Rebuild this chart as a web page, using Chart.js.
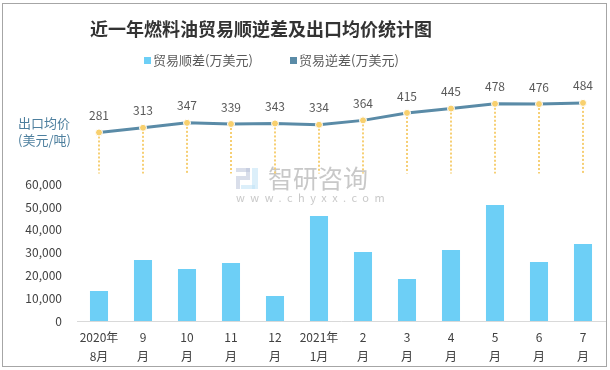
<!DOCTYPE html>
<html>
<head>
<meta charset="utf-8">
<script src="https://cdn.jsdelivr.net/npm/chart.js@4/dist/chart.umd.min.js"></script>
<style>
  html, body { margin: 0; padding: 0; background: #fff; }
  #wrap { width: 610px; height: 370px; }
</style>
</head>
<body>
<div id="wrap"><canvas id="chart" width="610" height="370"></canvas></div>
<script>
// data
const months = [
  ['2020年', '8月'], ['9', '月'], ['10', '月'], ['11', '月'], ['12', '月'], ['2021年', '1月'],
  ['2', '月'], ['3', '月'], ['4', '月'], ['5', '月'], ['6', '月'], ['7', '月']
];
const surplus = [13200, 26800, 22800, 25500, 11000, 46100, 30300, 18400, 31200, 50900, 25900, 33800];
const exportPrice = [281, 313, 347, 339, 343, 334, 364, 415, 445, 478, 476, 484];
const surplusTicks = [0, 10000, 20000, 30000, 40000, 50000, 60000];

const titleText = '近一年燃料油贸易顺逆差及出口均价统计图';
const FONT = "'Noto Sans CJK SC', 'Noto Sans', sans-serif";

// garis putus-putus kuning dari titik ke dasar area harga
const dropLines = {
  id: 'dropLines',
  beforeDatasetsDraw(chart) {
    const meta = chart.getDatasetMeta(1);
    const base = chart.scales.y2.getPixelForValue(0);
    const ctx = chart.ctx;
    ctx.save();
    ctx.strokeStyle = '#f6cf74';
    ctx.lineWidth = 2;
    ctx.setLineDash([2, 2]);
    meta.data.forEach(pt => {
      ctx.beginPath();
      ctx.moveTo(Math.round(pt.x), pt.y);
      ctx.lineTo(Math.round(pt.x), base);
      ctx.stroke();
    });
    ctx.restore();
  }
};

// label angka di atas titik harga
const pointLabels = {
  id: 'pointLabels',
  afterDatasetsDraw(chart) {
    const meta = chart.getDatasetMeta(1);
    const ctx = chart.ctx;
    ctx.save();
    ctx.font = '12px ' + FONT;
    ctx.fillStyle = '#595959';
    ctx.textAlign = 'center';
    ctx.textBaseline = 'middle';
    meta.data.forEach((pt, i) => {
      ctx.fillText(exportPrice[i], pt.x, pt.y - 17);
    });
    ctx.restore();
  }
};

// judul, legenda, label sumbu kiri, bingkai dan watermark
const decorations = {
  id: 'decorations',
  beforeDraw(chart) {
    const ctx = chart.ctx;
    ctx.save();
    ctx.fillStyle = '#fff';
    ctx.fillRect(0, 0, chart.width, chart.height);
    ctx.strokeStyle = '#a6a6a6';
    ctx.lineWidth = 1;
    ctx.strokeRect(2.5, 3.5, 604, 363);
    ctx.restore();
  },
  beforeDatasetsDraw(chart) {
    const ctx = chart.ctx;
    ctx.save();
    ctx.globalAlpha = 0.55;
    ctx.fillStyle = '#b9c3d9';
    ctx.fillRect(236, 168, 14, 4);
    ctx.fillRect(246, 168, 4, 12);
    ctx.fillRect(236, 176, 10, 4);
    ctx.fillRect(236, 180, 4, 9);
    ctx.fillStyle = '#bfe1f5';
    ctx.fillRect(252, 168, 6, 21);
    ctx.fillRect(241, 185, 14, 4);
    ctx.fillStyle = '#9a9a9a';
    ctx.font = '25px ' + FONT;
    ctx.textBaseline = 'middle';
    ctx.fillText('智研咨询', 268, 178);
    ctx.font = '11px ' + FONT;
    ctx.letterSpacing = '5.5px';
    ctx.fillText('www.chyxx.com', 236, 198);
    ctx.restore();
  },
  afterDraw(chart) {
    const ctx = chart.ctx;
    ctx.save();
    ctx.textBaseline = 'middle';
    ctx.textAlign = 'center';
    ctx.fillStyle = '#333333';
    ctx.font = 'bold 18px ' + FONT;
    ctx.fillText(titleText, 261, 29);

    // legenda
    ctx.textAlign = 'left';
    ctx.font = '13px ' + FONT;
    const items = [
      { x: 144, ds: chart.data.datasets[0], color: chart.data.datasets[0].backgroundColor },
      { x: 290, ds: chart.data.datasets[1], color: chart.data.datasets[1].borderColor }
    ];
    items.forEach(it => {
      ctx.fillStyle = it.color;
      ctx.fillRect(it.x, 57, 7, 7);
      ctx.fillStyle = '#595959';
      ctx.fillText(it.ds.label, it.x + 9, 60.5);
    });

    ctx.fillStyle = '#4d7f9e';
    ctx.font = '13px ' + FONT;
    ctx.fillText('出口均价', 18, 123);
    ctx.fillText('(美元/吨)', 18, 140);
    ctx.restore();
  }
};

new Chart(document.getElementById('chart').getContext('2d'), {
  type: 'bar',
  data: {
    labels: months,
    datasets: [{
      label: '贸易顺差(万美元)',
      data: surplus,
      backgroundColor: '#6dcff6',
      yAxisID: 'y',
      categoryPercentage: 1,
      barPercentage: 0.41,
      order: 2
    }, {
      type: 'line',
      label: '贸易逆差(万美元)',
      data: exportPrice,
      yAxisID: 'y2',
      borderColor: '#5a8ba7',
      backgroundColor: '#f8d06e',
      borderWidth: 3,
      tension: 0,
      pointRadius: 3.5,
      pointBackgroundColor: '#f8d06e',
      pointBorderColor: '#ffffff',
      pointBorderWidth: 1,
      order: 1
    }]
  },
  options: {
    responsive: false,
    animation: false,
    layout: { padding: { top: 86, right: 4, bottom: 0, left: 0 } },
    plugins: {
      legend: { display: false },
      title: { display: false },
      tooltip: { enabled: false }
    },
    scales: {
      x: {
        grid: { display: false, drawTicks: false },
        border: { display: true, color: '#d9d9d9', width: 1 },
        ticks: {
          color: '#404040',
          font: { family: FONT, size: 12, lineHeight: 1.6 },
          padding: 7,
          maxRotation: 0,
          autoSkip: false
        },
        afterFit: (scale) => { scale.height = 49; }
      },
      y: {
        position: 'left',
        stack: 'v',
        stackWeight: 136.7,
        min: 0,
        max: 60000,
        grid: { display: false, drawTicks: false },
        border: { display: false },
        afterBuildTicks: (scale) => { scale.ticks = surplusTicks.map(v => ({ value: v })); },
        ticks: {
          color: '#404040',
          font: { family: FONT, size: 12 },
          padding: 15,
          autoSkip: false,
          callback: (v) => v.toLocaleString('en-US')
        },
        afterFit: (scale) => { scale.width = 77; }
      },
      y2: {
        position: 'left',
        stack: 'v',
        stackWeight: 98.3,
        min: -75,
        max: 600,
        grid: { display: false },
        border: { display: false },
        ticks: { display: false },
        afterFit: (scale) => { scale.width = 77; }
      }
    }
  },
  plugins: [decorations, dropLines, pointLabels]
});
</script>
</body>
</html>
